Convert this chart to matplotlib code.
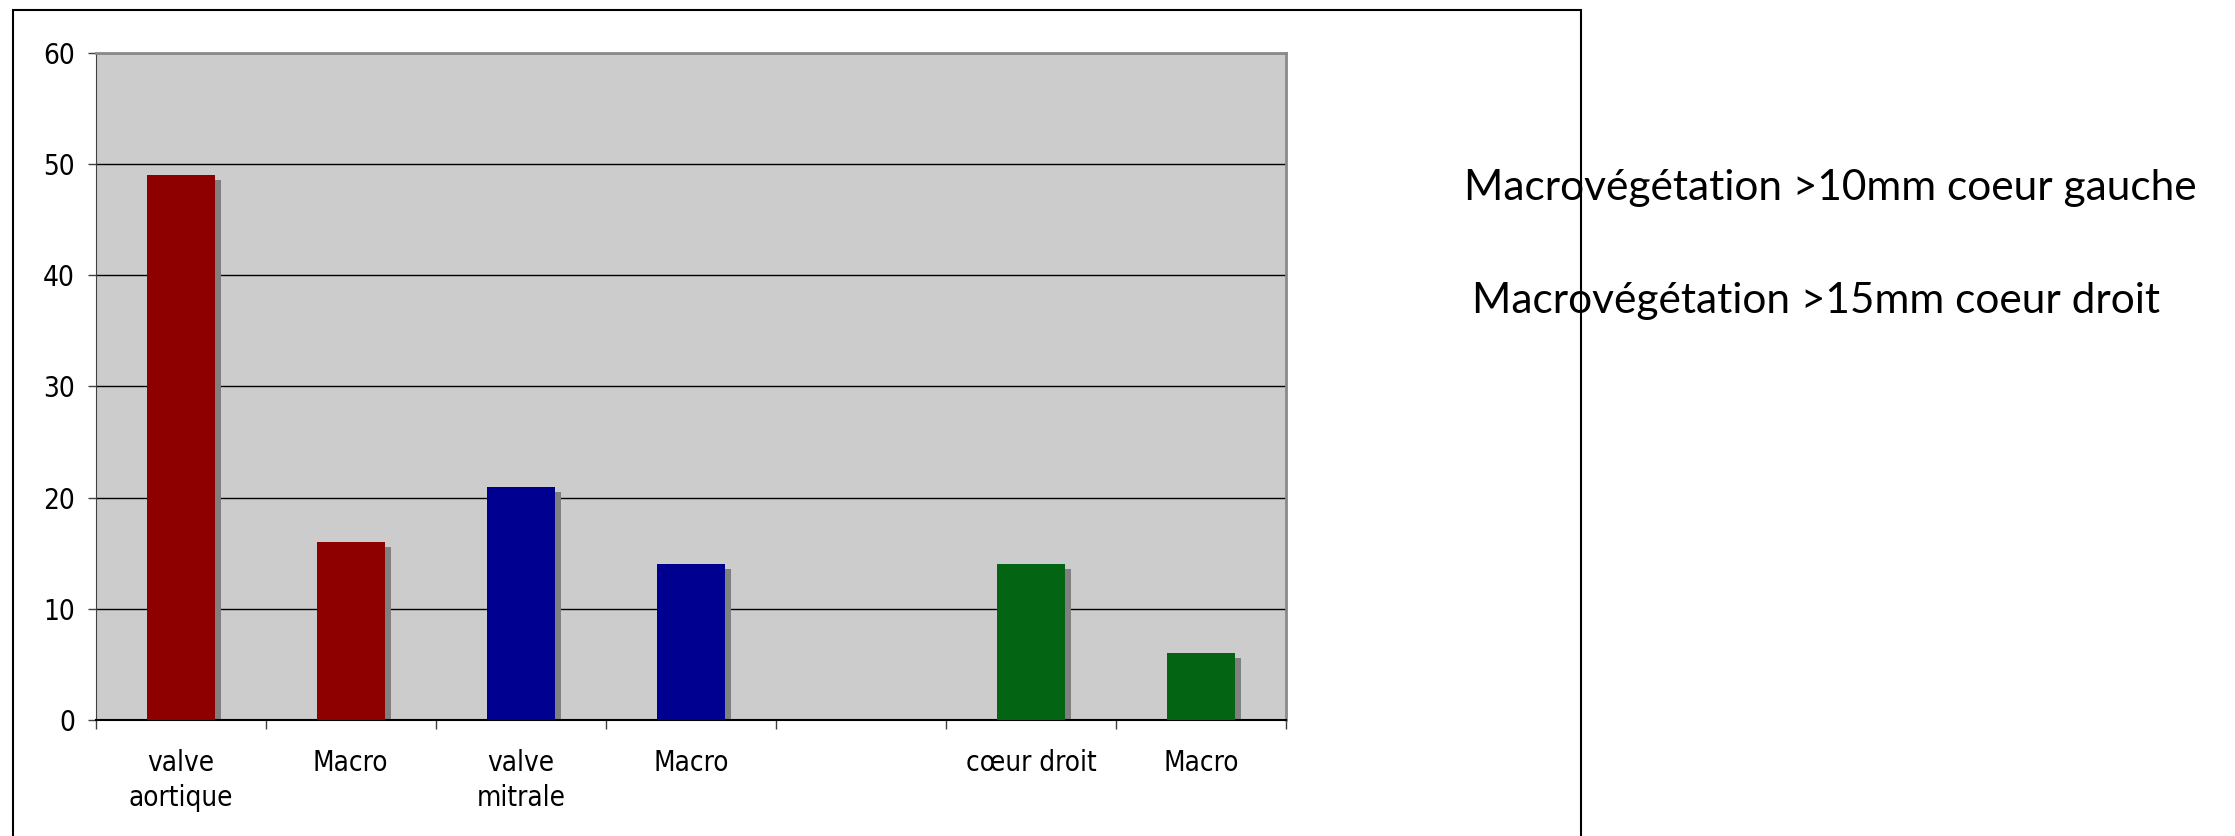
import matplotlib as mpl
mpl.use("Agg")
import matplotlib.pyplot as plt
import matplotlib.transforms as mtransforms
from matplotlib.patches import Rectangle
import numpy as np

# figure size in pixels at 100 dpi
dpi = 100
figsize = (2235 / dpi, 836 / dpi)

categories = ["valve\naortique", "Macro", "valve\nmitrale", "Macro", "", "cœur droit", "Macro"]
values = [49, 16, 21, 14, None, 14, 6]
colors = ["#8e0000", "#8e0000", "#000090", "#000090", None, "#036414", "#036414"]
notes = ["Macrovégétation >10mm coeur gauche", "Macrovégétation >15mm coeur droit"]

fig = plt.figure(figsize=figsize, dpi=dpi)
ax = fig.add_axes([0.0428, 0.1388, 0.5326, 0.7978])
ax.set_facecolor("#cccccc")

x = np.arange(len(categories))
shown = [i for i, v in enumerate(values) if v is not None]
heights = [values[i] for i in shown]
bar_w = 0.40

# drop shadow: same bars shifted right and down by a few pixels
shift = mtransforms.ScaledTranslation(6 / dpi, -5 / dpi, fig.dpi_scale_trans)
ax.bar(x[shown], heights, width=bar_w, color="#808080", zorder=2,
       transform=ax.transData + shift)
ax.bar(x[shown], heights, width=bar_w, color=[colors[i] for i in shown], zorder=3)

ax.set_xlim(-0.5, len(categories) - 0.5)
ax.set_ylim(0, 60)
ax.set_yticks(np.arange(0, 61, 10))
ax.yaxis.grid(True, color="black", linewidth=1.0, zorder=1)
ax.set_axisbelow(True)

# boundary ticks between categories, labels centred under the bars
ax.set_xticks(np.arange(-0.5, len(categories), 1.0))
ax.set_xticklabels([])
ax.set_xticks(x, minor=True)
ax.set_xticklabels(categories, minor=True, fontsize=20, linespacing=1.3,
                   fontstretch="condensed")
ax.tick_params(axis="x", which="major", length=6.5, width=1, color="#404040", direction="out")
ax.tick_params(axis="x", which="minor", length=0, pad=21)
ax.tick_params(axis="y", length=6, width=1, color="#404040", labelsize=20, pad=9)
for lab in ax.get_yticklabels():
    lab.set_fontstretch("condensed")

ax.spines["left"].set_color("#404040")
ax.spines["bottom"].set_color("black")
ax.spines["bottom"].set_linewidth(1.5)
ax.spines["top"].set_color("#8a8a8a")
ax.spines["right"].set_color("#8a8a8a")
ax.spines["top"].set_linewidth(2)
ax.spines["right"].set_linewidth(2)

fig.text(0.655, 0.761, notes[0], fontsize=30.5, family="Lato", va="baseline", zorder=3)
fig.text(0.6586, 0.625, notes[1], fontsize=30.5, family="Lato", va="baseline", zorder=3)

# outer frame around the chart, drawn over the notes
frame = Rectangle((0.0058, -0.05), 0.7016, 1.0386, transform=fig.transFigure,
                  fill=False, edgecolor="black", linewidth=1.5, zorder=5)
fig.add_artist(frame)

plt.savefig("out.png", dpi=dpi)
